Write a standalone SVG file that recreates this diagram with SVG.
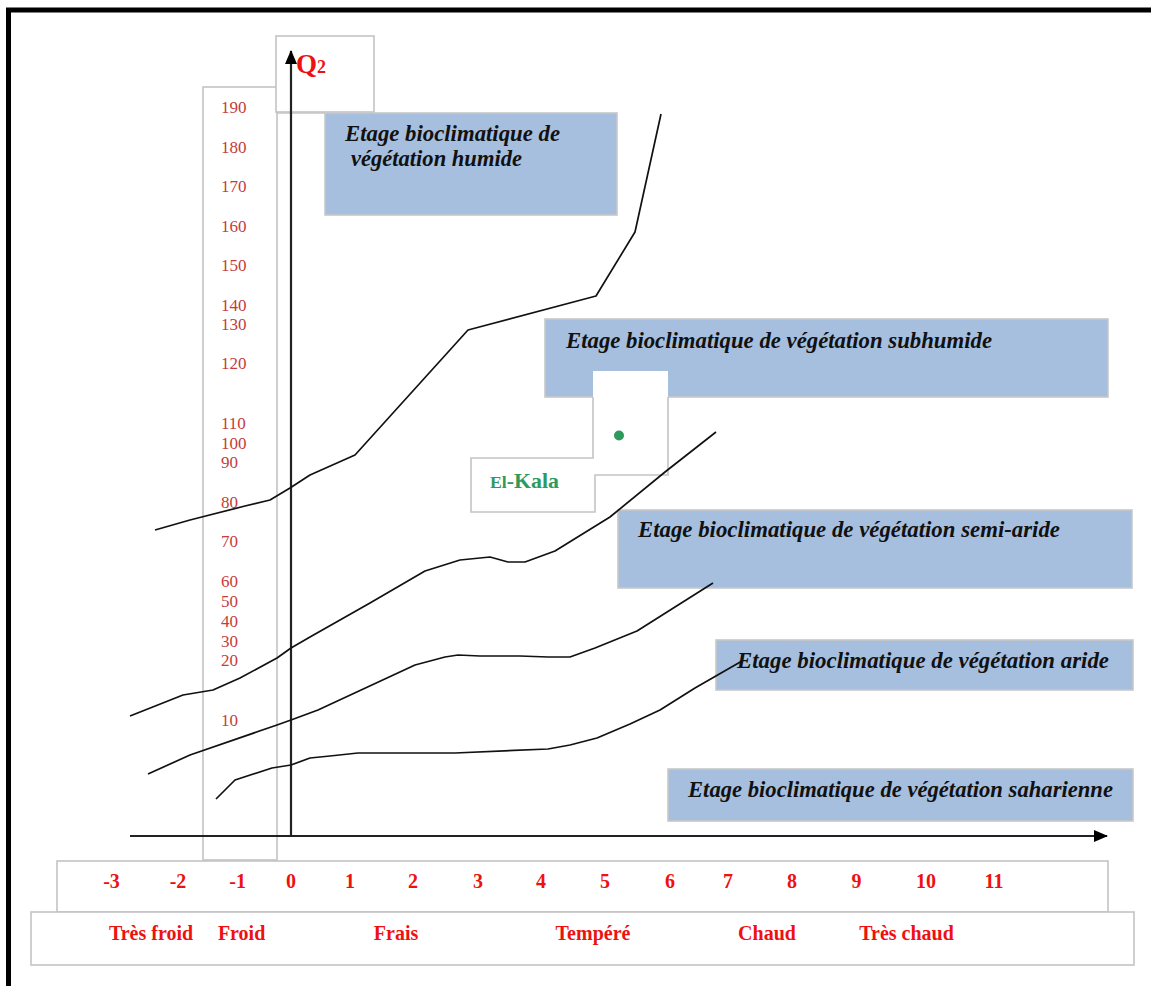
<svg xmlns="http://www.w3.org/2000/svg" width="1151" height="986" viewBox="0 0 1151 986">
<style>
.gbox{fill:#ffffff;stroke:#c4c4c4;stroke-width:1.6}
.nobox{fill:none;stroke:#c4c4c4;stroke-width:1.6}
.blue{fill:#a7bfde;stroke:#c8c8c8;stroke-width:1.6}
.et{font-family:"Liberation Serif","Times New Roman",serif;font-size:22.5px;font-weight:bold;font-style:italic;fill:#111}
.yl{font-family:"Liberation Serif","Times New Roman",serif;font-size:17px;fill:#c43c3c}
.xl{font-family:"Liberation Serif","Times New Roman",serif;font-size:20px;font-weight:bold;fill:#ee1111;text-anchor:middle}
.curve{fill:none;stroke:#111;stroke-width:1.7;stroke-linejoin:round}
.axis{fill:none;stroke:#222;stroke-width:2.2}
</style>
<defs>
<marker id="arr" markerWidth="14" markerHeight="12" refX="13" refY="6" orient="auto" markerUnits="userSpaceOnUse">
<path d="M0,0 L14,6 L0,12 Z" fill="#000"/>
</marker>
</defs>
<rect width="1151" height="986" fill="#ffffff"/>
<rect id="frame" x="8.5" y="10" width="1300" height="1300" fill="none" stroke="#000" stroke-width="5"/>

<g id="yaxis-box">
<rect class="gbox" x="203" y="87" width="74" height="773"/>
<g>
<text class="yl" x="221" y="112.5">190</text>
<text class="yl" x="221" y="152.5">180</text>
<text class="yl" x="221" y="192">170</text>
<text class="yl" x="221" y="231.5">160</text>
<text class="yl" x="221" y="271">150</text>
<text class="yl" x="221" y="310.5">140</text>
<text class="yl" x="221" y="330">130</text>
<text class="yl" x="221" y="369">120</text>
<text class="yl" x="221" y="429">110</text>
<text class="yl" x="221" y="448.7">100</text>
<text class="yl" x="221" y="468.3">90</text>
<text class="yl" x="221" y="508">80</text>
<text class="yl" x="221" y="547">70</text>
<text class="yl" x="221" y="586.7">60</text>
<text class="yl" x="221" y="606.7">50</text>
<text class="yl" x="221" y="626.7">40</text>
<text class="yl" x="221" y="646.7">30</text>
<text class="yl" x="221" y="666">20</text>
<text class="yl" x="221" y="725.7">10</text>
</g>
</g>

<g id="q2-box">
<rect class="gbox" x="276" y="36" width="98" height="76"/>
<text x="296" y="73" font-family="Liberation Serif, Times New Roman, serif" font-weight="bold" fill="#ee1111"><tspan font-size="27">Q</tspan><tspan font-size="18">2</tspan></text>
</g>
<line class="nobox" x1="277" y1="113" x2="325" y2="113"/>

<g id="humide">
<rect class="blue" x="325" y="113" width="292" height="102"/>
<text class="et" x="345" y="141" textLength="215" lengthAdjust="spacingAndGlyphs">Etage bioclimatique de</text>
<text class="et" x="351" y="166" textLength="171" lengthAdjust="spacingAndGlyphs">végétation humide</text>
</g>

<g id="subhumide">
<rect class="blue" x="545" y="319" width="563" height="78"/>
<text class="et" x="566" y="348" textLength="426" lengthAdjust="spacingAndGlyphs">Etage bioclimatique de végétation subhumide</text>
</g>

<g id="el-kala">
<polygon points="593,371 668,371 668,475 595,475 595,512 471,512 471,458 593,458" fill="#ffffff"/>
<polyline class="nobox" points="668,397 668,475 595,475 595,512 471,512 471,458 593,458 593,397"/>
<circle cx="619" cy="435.5" r="5" fill="#2e9a5e"/>
<text x="490" y="488" font-family="Liberation Serif, Times New Roman, serif" font-weight="bold" fill="#2e9a5e" textLength="69" lengthAdjust="spacingAndGlyphs"><tspan font-size="17">El</tspan><tspan font-size="21">-Kala</tspan></text>
</g>

<g id="semi-aride">
<rect class="blue" x="618" y="510" width="514" height="78"/>
<text class="et" x="638" y="537" textLength="422" lengthAdjust="spacingAndGlyphs">Etage bioclimatique de végétation semi-aride</text>
</g>

<g id="aride">
<rect class="blue" x="716" y="640" width="417" height="50"/>
<text class="et" x="737" y="668" textLength="372" lengthAdjust="spacingAndGlyphs">Etage bioclimatique de végétation aride</text>
</g>

<g id="saharienne">
<rect class="blue" x="668" y="769" width="465" height="52"/>
<text class="et" x="688" y="797" textLength="425" lengthAdjust="spacingAndGlyphs">Etage bioclimatique de végétation saharienne</text>
</g>

<g id="connectors">
<line class="axis" x1="291" y1="836" x2="291" y2="51" marker-end="url(#arr)"/>
<line class="axis" x1="130" y1="836" x2="1107" y2="836" marker-end="url(#arr)"/>
<polyline class="curve" points="155,530 190,520 245,506 270,500 290,488 310,475 355,455 468,330 596,296 635,232 661,114"/>
<polyline class="curve" points="130,716 183,695 213,690 240,678 277,658 291,648 310,637 370,603 425,571 460,560 490,557 508,562 525,562 555,551 610,517 665,472 716,432"/>
<polyline class="curve" points="148,774 190,755 277,725 291,720 318,710 415,665 445,657 458,655 480,656 520,656 548,657 570,657 595,648 637,631 713,583"/>
<polyline class="curve" points="216,799 235,780 272,768 291,765 310,758 330,756 358,753 455,753 548,749 570,745 597,738 630,724 660,710 695,688 742,661"/>
</g>

<g id="x-values">
<rect class="gbox" x="57" y="861" width="1051" height="51"/>
<text class="xl" x="111.5" y="888">-3</text>
<text class="xl" x="178" y="888">-2</text>
<text class="xl" x="237.6" y="888">-1</text>
<text class="xl" x="291" y="888">0</text>
<text class="xl" x="350" y="888">1</text>
<text class="xl" x="413" y="888">2</text>
<text class="xl" x="478" y="888">3</text>
<text class="xl" x="541" y="888">4</text>
<text class="xl" x="605" y="888">5</text>
<text class="xl" x="670" y="888">6</text>
<text class="xl" x="728" y="888">7</text>
<text class="xl" x="792" y="888">8</text>
<text class="xl" x="856.5" y="888">9</text>
<text class="xl" x="926" y="888">10</text>
<text class="xl" x="994" y="888">11</text>
</g>

<g id="x-classes">
<rect class="gbox" x="31" y="912" width="1103" height="53"/>
<text class="xl" x="151" y="940">Très froid</text>
<text class="xl" x="241.6" y="940">Froid</text>
<text class="xl" x="396" y="940">Frais</text>
<text class="xl" x="593" y="940">Tempéré</text>
<text class="xl" x="767" y="940">Chaud</text>
<text class="xl" x="906.5" y="940">Très chaud</text>
</g>
</svg>
